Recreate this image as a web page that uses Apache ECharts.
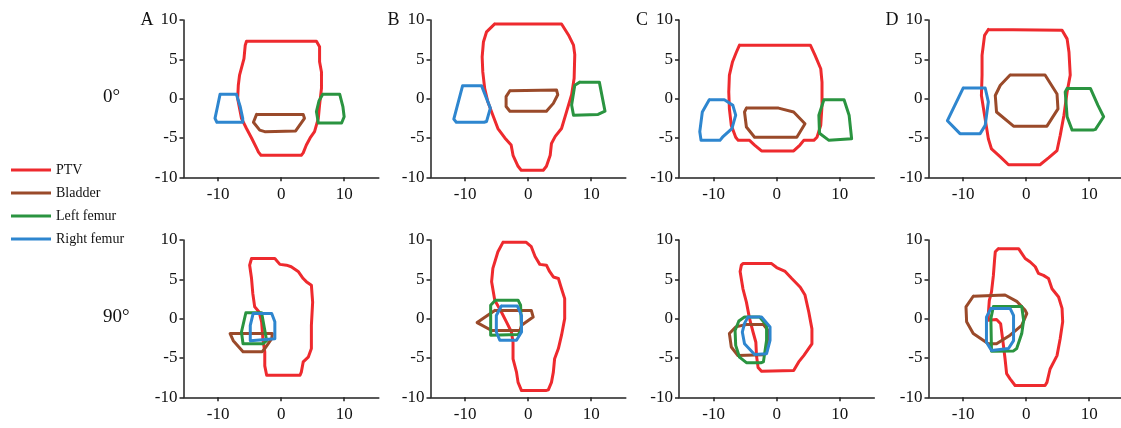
<!DOCTYPE html>
<html>
<head>
<meta charset="utf-8">
<script src="https://cdn.jsdelivr.net/npm/echarts@6/dist/echarts.min.js"></script>
<style>
  html, body { margin: 0; padding: 0; background: #fff; }
  #chart { width: 1121px; height: 428px; }
</style>
</head>
<body>
<div id="chart"></div>
<script>
// structure names, in legend order
const structures = ['PTV', 'Bladder', 'Left femur', 'Right femur']
const panelLetters = ['A', 'B', 'C', 'D']
const rowAngles = ['0°', '90°']
const xTicks = [-10, 0, 10]

// contours, [x, y] in cm — 0° row
const ptvA0 = [[-5.5,7.3],[0,7.3],[5.6,7.3],[6.1,6.6],[6.1,4.7],[6.4,3.4],[6.4,1.3],[6.1,-0.8],[5.9,-2.5],[5.3,-4.2],[4.6,-5.0],[4.0,-5.9],[3.5,-6.9],[3.2,-7.2],[-3.2,-7.2],[-3.6,-6.8],[-3.9,-6.3],[-4.7,-5.0],[-5.5,-3.8],[-6.3,-2.5],[-6.9,0],[-6.8,1.7],[-6.6,3.0],[-5.9,5.1],[-5.7,6.8],[-5.5,7.3]]
const bladderA0 = [[-3.9,-2.0],[3.5,-2.0],[3.7,-2.5],[2.3,-4.1],[-2.6,-4.2],[-3.4,-4.0],[-4.4,-3.0],[-3.9,-2.0]]
const leftFemurA0 = [[6.6,0.55],[9.3,0.55],[9.8,-1.0],[10.0,-2.3],[9.6,-3.1],[5.9,-3.1],[5.6,-1.65],[6.0,-0.3],[6.6,0.55]]
const rightFemurA0 = [[-9.7,0.55],[-7.1,0.55],[-6.5,-1.0],[-6.1,-2.5],[-6.1,-3.0],[-10.2,-3.0],[-10.5,-2.5],[-10.1,-1.0],[-9.7,0.55]]

const ptvB0 = [[-5.3,9.5],[5.3,9.5],[5.6,9.4],[6.4,8.1],[7.2,6.8],[7.4,5.6],[7.3,2.6],[6.9,0.5],[6.1,-1.65],[5.3,-3.8],[4.3,-4.8],[3.7,-5.7],[3.5,-7.2],[2.9,-8.6],[2.4,-9.1],[-1.1,-9.1],[-1.6,-8.6],[-2.4,-7.2],[-2.7,-5.9],[-3.7,-5.0],[-4.8,-3.8],[-5.6,-2.1],[-6.4,-0.4],[-6.9,1.3],[-7.2,3.4],[-7.3,5.3],[-7.1,7.2],[-6.6,8.5],[-5.3,9.5]]
const bladderB0 = [[-2.9,1.0],[4.5,1.1],[4.7,0.5],[4.0,-0.6],[2.9,-1.6],[-2.9,-1.6],[-3.5,-1.0],[-3.5,0.25],[-2.9,1.0]]
const leftFemurB0 = [[8.2,2.1],[11.3,2.1],[12.2,-1.6],[11.1,-2.0],[7.2,-2.1],[6.9,-0.8],[7.4,1.7],[8.2,2.1]]
const rightFemurB0 = [[-10.4,1.65],[-7.4,1.65],[-6.0,-1.2],[-6.6,-2.9],[-7.0,-3.0],[-11.4,-3.0],[-11.8,-2.6],[-10.4,1.65]]

const ptvC0 = [[-5.9,6.8],[5.35,6.8],[6.1,5.5],[7.0,3.8],[7.2,2.1],[7.2,-0.85],[7.0,-3.4],[6.4,-4.9],[5.9,-5.3],[4.3,-5.3],[3.7,-5.9],[2.7,-6.65],[-2.4,-6.65],[-3.5,-5.9],[-4.3,-5.3],[-6.1,-5.3],[-6.5,-4.9],[-7.2,-3.4],[-7.5,-1.3],[-7.6,0.85],[-7.5,3.0],[-7.0,4.7],[-6.4,5.9],[-5.9,6.8]]
const bladderC0 = [[-4.8,-1.2],[0.3,-1.2],[2.7,-1.7],[4.5,-3.2],[3.2,-4.9],[-3.5,-4.9],[-4.8,-3.6],[-5.1,-1.7],[-4.8,-1.2]]
const leftFemurC0 = [[7.5,-0.15],[10.7,-0.15],[11.5,-2.1],[11.9,-5.1],[11.6,-5.3],[8.3,-5.3],[6.8,-4.4],[6.7,-2.1],[7.5,-0.15]]
const rightFemurC0 = [[-10.7,-0.15],[-8.3,-0.15],[-6.95,-0.85],[-6.5,-2.1],[-7.1,-3.8],[-8.6,-4.9],[-9.0,-5.3],[-12.0,-5.3],[-12.2,-4.2],[-11.8,-1.7],[-10.7,-0.15]]

const ptvD0 = [[-6.0,8.8],[5.7,8.7],[6.5,7.6],[6.8,5.9],[7.0,3.0],[6.5,0.85],[6.0,-2.1],[5.4,-4.7],[4.9,-6.6],[3.6,-7.5],[2.2,-8.4],[-2.8,-8.4],[-4.1,-7.4],[-5.5,-6.4],[-6.0,-5.1],[-6.6,-2.1],[-7.1,0.4],[-7.0,3.0],[-7.0,5.5],[-6.6,8.05],[-6.0,8.8]]
const bladderD0 = [[-2.55,3.0],[3.0,3.0],[4.9,0.6],[5.05,-1.3],[3.3,-3.5],[-2.0,-3.5],[-4.7,-1.7],[-4.9,0.4],[-4.1,1.7],[-2.55,3.0]]
const leftFemurD0 = [[6.5,1.3],[10.2,1.3],[11.4,-0.85],[12.3,-2.3],[11.0,-3.9],[10.6,-4.0],[7.3,-4.0],[6.5,-2.3],[6.2,0.85],[6.5,1.3]]
const rightFemurD0 = [[-10.0,1.35],[-6.5,1.35],[-6.0,-0.4],[-6.5,-3.4],[-7.3,-4.45],[-10.5,-4.45],[-12.5,-2.8],[-10.0,1.35]]

// 90° row
const ptvA90 = [[-4.7,7.65],[-1.0,7.65],[-0.2,6.9],[0.85,6.8],[1.6,6.6],[2.7,6.0],[3.5,5.1],[4.0,4.7],[4.8,4.25],[5.0,2.1],[4.8,-0.85],[4.8,-3.8],[4.3,-4.9],[3.5,-5.5],[3.2,-6.8],[3.0,-7.2],[-2.3,-7.2],[-2.6,-6.0],[-2.6,-4.25],[-2.9,-2.55],[-3.1,-0.4],[-3.5,0.85],[-4.2,1.5],[-4.5,3.2],[-4.7,5.1],[-5.0,6.8],[-4.7,7.65]]
const bladderA90 = [[-8.1,-1.9],[-1.4,-1.9],[-1.5,-2.55],[-2.6,-3.8],[-3.0,-4.2],[-6.05,-4.2],[-7.6,-2.8],[-8.1,-1.9]]
const leftFemurA90 = [[-5.6,0.75],[-3.1,0.75],[-2.3,-2.8],[-2.9,-3.2],[-6.05,-3.2],[-6.3,-1.7],[-5.6,0.75]]
const rightFemurA90 = [[-4.45,0.65],[-1.5,0.65],[-1.0,-0.4],[-1.0,-2.55],[-1.2,-2.8],[-4.9,-2.8],[-4.9,-0.85],[-4.45,0.65]]

const ptvB90 = [[-4.0,9.7],[-0.3,9.7],[0.5,9.15],[1.1,7.9],[1.85,6.9],[2.9,6.8],[3.4,6.0],[4.0,5.3],[4.8,5.1],[5.3,3.8],[5.8,2.55],[5.8,0],[5.3,-2.1],[4.8,-3.8],[4.2,-5.1],[4.0,-6.8],[3.7,-8.1],[3.2,-9.05],[2.8,-9.15],[-1.05,-9.15],[-1.6,-8.1],[-1.85,-6.8],[-2.4,-5.1],[-2.4,-3.0],[-2.65,-1.7],[-3.45,-0.4],[-4.25,0.85],[-5.3,2.35],[-5.8,4.7],[-5.6,6.4],[-4.8,8.5],[-4.0,9.7]]
const bladderB90 = [[-5.3,1.05],[0.5,1.05],[0.8,0.2],[-1.05,-0.85],[-1.3,-1.5],[-5.8,-1.5],[-8.1,-0.5],[-5.3,1.05]]
const leftFemurB90 = [[-5.2,2.35],[-1.6,2.35],[-1.2,1.7],[-1.05,-1.5],[-1.6,-2.0],[-5.95,-2.1],[-5.95,1.7],[-5.2,2.35]]
const rightFemurB90 = [[-4.25,1.6],[-1.7,1.6],[-1.05,0.4],[-1.05,-1.7],[-1.85,-2.75],[-4.5,-2.75],[-5.05,-1.7],[-5.05,0.4],[-4.25,1.6]]

const ptvC90 = [[-5.35,7.0],[-0.8,7.0],[0,6.5],[1.35,6.0],[2.4,5.1],[3.75,4.0],[4.5,3.0],[5.1,0.85],[5.6,-1.3],[5.6,-3.2],[4.3,-4.7],[3.5,-5.5],[2.7,-6.6],[2.4,-6.7],[-2.4,-6.7],[-2.95,-6.2],[-3.2,-4.7],[-3.3,-3.0],[-3.75,-1.7],[-4.3,0],[-4.8,2.1],[-5.35,3.8],[-5.8,6.0],[-5.6,6.8],[-5.35,7.0]]
const bladderC90 = [[-4.8,-0.75],[-2.1,-0.75],[-1.35,-1.5],[-1.6,-4.25],[-2.1,-4.6],[-6.15,-4.7],[-7.2,-3.6],[-7.5,-1.9],[-6.5,-1.05],[-4.8,-0.75]]
const leftFemurC90 = [[-5.1,0.2],[-2.7,0.2],[-1.6,-0.85],[-1.6,-2.75],[-2.1,-5.5],[-2.5,-5.6],[-4.8,-5.6],[-5.9,-4.9],[-6.5,-3.4],[-6.6,-1.5],[-6.0,-0.3],[-5.1,0.2]]
const rightFemurC90 = [[-4.55,0.2],[-2.4,0.2],[-1.05,-1.05],[-1.05,-2.75],[-1.6,-4.45],[-1.9,-4.55],[-3.5,-4.55],[-5.1,-3.2],[-5.45,-1.7],[-5.1,-0.6],[-4.55,0.2]]

const ptvD90 = [[-4.4,8.9],[-1.2,8.9],[-0.7,8.3],[-0.15,7.65],[0.65,7.2],[1.45,6.6],[1.95,5.75],[2.75,5.5],[3.55,5.1],[4.1,3.8],[5.15,2.75],[5.7,1.3],[5.8,-0.4],[5.4,-2.55],[4.9,-4.7],[3.8,-6.4],[3.3,-8.1],[3.0,-8.5],[-1.75,-8.5],[-2.55,-7.65],[-3.1,-7.0],[-3.35,-5.1],[-3.7,-2.8],[-4.05,-0.65],[-4.7,-0.1],[-6.0,-0.2],[-6.0,0.6],[-5.85,2.3],[-5.5,3.4],[-5.2,5.5],[-5.0,7.6],[-4.9,8.5],[-4.4,8.9]]
const bladderD90 = [[-8.4,2.85],[-3.35,3.0],[-1.5,2.2],[-0.15,1.05],[0.1,0.65],[-0.7,-0.85],[-2.55,-2.1],[-4.7,-3.2],[-6.0,-3.2],[-8.4,-1.9],[-9.45,-0.4],[-9.55,1.5],[-8.4,2.85]]
const leftFemurD90 = [[-5.2,1.55],[-0.7,1.55],[-0.4,-0.2],[-0.7,-1.9],[-1.5,-3.8],[-2.0,-4.1],[-5.5,-4.15],[-5.6,0],[-5.2,1.55]]
const rightFemurD90 = [[-5.6,1.3],[-2.55,1.3],[-2.0,0.4],[-2.0,-2.8],[-2.8,-3.8],[-5.5,-4.05],[-6.3,-3.0],[-6.3,0.2],[-5.6,1.3]]

// one row per panel (A..D for 0°, then A..D for 90°), in structure order
const panels = [
  [ptvA0, bladderA0, leftFemurA0, rightFemurA0],
  [ptvB0, bladderB0, leftFemurB0, rightFemurB0],
  [ptvC0, bladderC0, leftFemurC0, rightFemurC0],
  [ptvD0, bladderD0, leftFemurD0, rightFemurD0],
  [ptvA90, bladderA90, leftFemurA90, rightFemurA90],
  [ptvB90, bladderB90, leftFemurB90, rightFemurB90],
  [ptvC90, bladderC90, leftFemurC90, rightFemurC90],
  [ptvD90, bladderD90, leftFemurD90, rightFemurD90],
]

const colors = ['#ee2a2e', '#9a4a2a', '#2a9440', '#2e86cf']
const font = '"Liberation Serif", "DejaVu Serif", serif'
const axisColor = '#222'

const gridLefts = [183.5, 430.5, 679, 928.5]
const gridTops = [20, 240]
const gridHeight = 157.3
const gridWidth = 195.3

const grids = []
const xAxes = []
const yAxes = []
const series = []

panels.forEach((shapes, i) => {
  const col = i % 4
  const row = Math.floor(i / 4)
  grids.push({
    left: gridLefts[col],
    top: gridTops[row],
    width: gridWidth,
    height: gridHeight,
    containLabel: false,
    outerBoundsMode: 'none',
  })
  xAxes.push({
    type: 'value',
    gridIndex: i,
    min: -15.5,
    max: 15.5,
    axisLine: { onZero: false, lineStyle: { color: axisColor, width: 1.5 } },
    axisTick: { length: 4, lineStyle: { color: axisColor, width: 1.5 }, customValues: xTicks },
    axisLabel: { customValues: xTicks, color: '#111', fontFamily: font, fontSize: 17, margin: 9 },
    splitLine: { show: false },
  })
  yAxes.push({
    type: 'value',
    gridIndex: i,
    min: -10,
    max: 10,
    interval: 5,
    axisLine: { show: true, onZero: false, lineStyle: { color: axisColor, width: 1.5 } },
    axisTick: { show: true, length: 4, lineStyle: { color: axisColor, width: 1.5 } },
    axisLabel: { color: '#111', fontFamily: font, fontSize: 17, margin: 6 },
    splitLine: { show: false },
  })
  shapes.forEach((pts, s) => {
    series.push({
      name: structures[s],
      type: 'line',
      xAxisIndex: i,
      yAxisIndex: i,
      data: pts,
      showSymbol: false,
      symbol: 'none',
      silent: true,
      z: 2 + s,
      lineStyle: { color: colors[s], width: 3, cap: 'round', join: 'round' },
      itemStyle: { color: colors[s] },
    })
  })
})

const graphics = []
panelLetters.forEach((letter, col) => {
  graphics.push({
    type: 'text',
    left: gridLefts[col] - 43,
    top: 11,
    style: { text: letter, fill: '#111', font: '18px ' + font },
  })
})
rowAngles.forEach((label, row) => {
  graphics.push({
    type: 'text',
    left: 103,
    top: row === 0 ? 88 : 308,
    style: { text: label, fill: '#111', font: '19px ' + font },
  })
})

const chart = echarts.init(document.getElementById('chart'))
chart.setOption({
  animation: false,
  backgroundColor: '#fff',
  legend: {
    data: structures,
    orient: 'vertical',
    left: 6,
    top: 158,
    icon: 'rect',
    itemWidth: 40,
    itemHeight: 3,
    itemGap: 9,
    textStyle: { fontFamily: font, fontSize: 14, color: '#111' },
  },
  grid: grids,
  xAxis: xAxes,
  yAxis: yAxes,
  series,
  graphic: graphics,
})
window.addEventListener('resize', () => chart.resize())
</script>
</body>
</html>
